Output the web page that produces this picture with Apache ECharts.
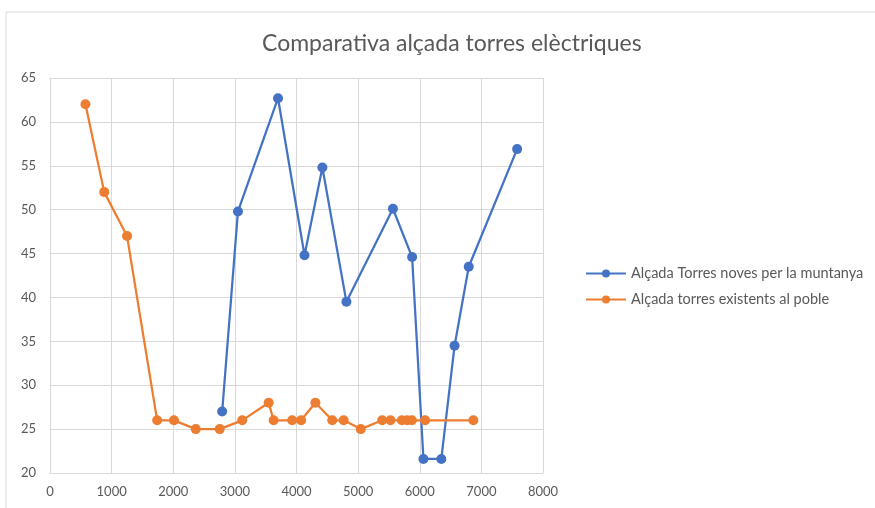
<!DOCTYPE html>
<html lang="ca">
<head>
    <meta charset="utf-8">
    <title>Comparativa alçada torres elèctriques</title>
    <script type="text/javascript" src="https://cdn.jsdelivr.net/npm/echarts@6/dist/echarts.min.js"></script>
    <style>
        html, body { margin: 0; padding: 0; background: #fff; }
    </style>
</head>
<body>
    <div id="chart" style="width: 875px; height: 508px;"></div>

    <script type="text/javascript" charset="utf-8">
        // dades llegides de la gràfica
        var titol = 'Comparativa alçada torres elèctriques';
        var nomMuntanya = 'Alçada Torres noves per la muntanya';
        var nomPoble = 'Alçada torres existents al poble';

        var muntanyaX = [2794, 3050, 3700, 4130, 4420, 4810, 5565, 5876, 6060, 6350, 6565, 6795, 7580];
        var muntanyaY = [27, 49.8, 62.7, 44.8, 54.8, 39.5, 50.1, 44.6, 21.6, 21.6, 34.5, 43.5, 56.9];

        var pobleX = [575, 880, 1250, 1739, 2012, 2365, 2754, 3119, 3548, 3629, 3930, 4075, 4307, 4580, 4765, 5043, 5391, 5525, 5710, 5797, 5872, 6087, 6870];
        var pobleY = [62, 52, 47, 26, 26, 25, 25, 26, 28, 26, 26, 26, 28, 26, 26, 25, 26, 26, 26, 26, 26, 26, 26];

        function parells(xs, ys) {
            var out = [];
            for (var i = 0; i < xs.length; i++) {
                out.push([xs[i], ys[i]]);
            }
            return out;
        }

        var gris = '#595959';
        var lineaGris = '#d9d9d9';

        var myChart = echarts.init(document.getElementById('chart'));
        myChart.setOption({
            animation: false,
            backgroundColor: '#fff',
            textStyle: { fontFamily: 'Lato' },
            graphic: [{
                type: 'rect',
                shape: { x: 6, y: 12, width: 900, height: 520 },
                style: { fill: 'none', stroke: lineaGris, lineWidth: 1 },
                silent: true
            }],
            title: {
                text: titol,
                left: 257,
                top: 27,
                textStyle: { color: gris, fontSize: 23, fontWeight: 'normal', fontFamily: 'Lato' }
            },
            legend: {
                orient: 'vertical',
                left: 580,
                top: 261,
                itemGap: 11,
                itemWidth: 40,
                itemHeight: 10,
                textStyle: { color: gris, fontSize: 14.5, fontFamily: 'Lato' },
                data: [nomMuntanya, nomPoble]
            },
            grid: {
                left: 50,
                right: 332,
                top: 78,
                bottom: 35
            },
            xAxis: {
                type: 'value',
                min: 0,
                max: 8000,
                interval: 1000,
                axisLine: { show: true, lineStyle: { color: lineaGris } },
                axisTick: { show: false },
                axisLabel: { color: gris, fontSize: 13, margin: 12, formatter: function (v) { return String(v); } },
                splitLine: { show: true, lineStyle: { color: lineaGris } }
            },
            yAxis: {
                type: 'value',
                min: 20,
                max: 65,
                interval: 5,
                axisLine: { show: true, lineStyle: { color: lineaGris } },
                axisTick: { show: false },
                axisLabel: { color: gris, fontSize: 13, margin: 14 },
                splitLine: { show: true, lineStyle: { color: lineaGris } }
            },
            series: [{
                name: nomMuntanya,
                type: 'line',
                color: '#4472c4',
                symbol: 'circle',
                symbolSize: 10,
                lineStyle: { width: 2.25 },
                data: parells(muntanyaX, muntanyaY)
            }, {
                name: nomPoble,
                type: 'line',
                color: '#ed7d31',
                symbol: 'circle',
                symbolSize: 10,
                lineStyle: { width: 2.25 },
                data: parells(pobleX, pobleY)
            }]
        });
    </script>
</body>
</html>
